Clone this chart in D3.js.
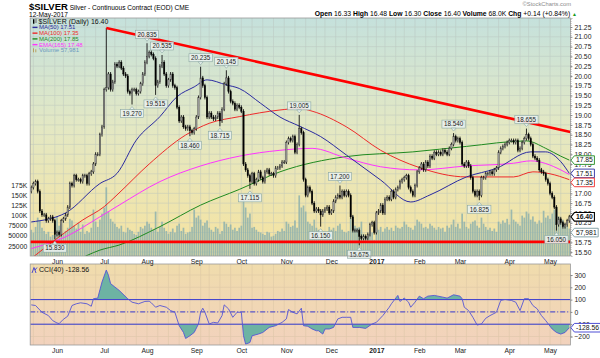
<!DOCTYPE html>
<html><head><meta charset="utf-8">
<script src="https://cdn.jsdelivr.net/npm/d3@7"></script>
<style>
body{margin:0;background:#fff;}
text{font-family:"Liberation Sans",Arial,sans-serif;}
</style>
</head><body>
<svg id="c" width="600" height="358"></svg>
<script>
// ---------------- DATA ----------------
const startDate = "2016-05-13", endDate = "2017-05-12";
const holidays = ["2016-05-30","2016-07-04","2016-09-05","2016-11-24","2016-12-26","2017-01-02","2017-01-16","2017-02-20","2017-04-14"];
const closes = [
17.15,17.25,17.30,17.05,16.55,16.45,16.45,16.30,16.35,16.40,16.30,
15.95,16.00,15.95,16.30,
16.35,16.45,16.65,17.25,17.20,
17.45,17.35,17.35,17.30,17.45,
17.45,17.25,17.50,17.55,17.75,
18.00,18.00,18.50,18.70,19.65,
19.70,20.05,19.65,19.85,
20.30,20.25,20.35,20.20,20.05,
20.00,19.60,19.55,19.65,19.65,
19.55,19.60,19.80,20.05,20.35,
20.50,20.60,20.55,20.45,19.75,
19.85,20.25,20.35,20.05,19.75,
19.90,20.05,19.75,19.70,19.20,
18.85,18.95,18.70,18.65,18.70,
18.60,18.55,18.65,18.95,19.45,
19.95,19.75,19.45,18.95,
19.05,18.95,18.90,18.95,19.05,
18.85,19.15,19.80,19.95,19.60,
19.35,19.30,19.15,19.25,19.20,
19.10,17.75,17.60,17.45,17.30,
17.50,17.25,17.35,17.55,17.40,
17.30,17.55,17.60,17.50,17.50,
17.45,17.65,17.65,17.70,17.80,
17.80,18.30,18.40,18.35,18.45,
18.05,18.25,18.65,18.55,17.35,
16.95,17.15,17.05,16.75,16.55,
16.60,16.55,16.45,16.55,
16.60,16.65,16.50,16.55,16.80,
16.90,16.95,16.90,17.05,16.95,
17.05,16.95,16.40,16.05,16.05,
16.05,15.90,15.85,15.90,15.85,
15.95,16.20,16.25,16.00,
16.50,16.55,16.70,16.50,
16.85,16.90,16.85,17.05,16.90,
17.10,17.15,17.30,17.35,
17.40,17.45,17.15,17.05,16.95,
17.20,17.55,17.65,17.75,17.60,
17.80,17.70,17.95,17.90,18.05,
18.00,18.05,18.00,18.10,18.05,
18.00,18.15,18.25,18.45,
18.35,18.40,18.30,17.75,17.70,
17.80,17.70,17.40,17.05,16.95,
17.05,16.95,17.40,17.40,17.50,
17.50,17.55,17.50,17.60,17.65,
18.05,18.15,18.20,18.25,18.30,
18.35,18.35,18.30,18.35,18.10,
18.15,18.30,18.40,18.50,
18.40,18.25,17.95,17.90,17.85,
17.60,17.55,17.50,17.35,17.25,
17.00,16.90,16.65,16.20,16.35,
16.25,16.15,16.20,16.30,16.40];
const firstOpen = 17.05;
// volume in thousands
const volumes = [
65,58,72,95,88,70,62,55,60,48,52,85,
98,75,80,
55,62,70,92,88,
75,68,82,60,78,
55,62,58,70,115,
85,72,90,105,120,
170,110,92,85,
80,72,68,75,60,
58,70,65,62,55,
52,60,72,68,75,
85,80,70,65,110,
60,72,85,70,62,
55,60,68,58,75,
80,62,70,55,58,
60,72,115,95,100,
90,75,82,88,
70,65,60,72,68,
55,62,85,80,72,
78,65,70,62,70,
75,140,120,95,105,
70,72,65,60,58,
55,52,60,58,48,
50,55,62,60,68,
62,85,80,72,75,
88,70,150,120,125,
110,85,80,75,90,
70,65,45,55,
60,58,72,65,70,
62,75,80,65,60,
58,62,95,100,75,
70,72,85,55,50,
45,60,58,40,
70,65,72,60,
68,72,65,70,62,
75,70,68,72,
85,78,72,70,65,
75,90,85,80,70,
72,68,80,75,70,
65,72,68,70,60,
75,70,78,90,
72,80,68,105,85,
72,68,80,85,88,
75,70,95,80,72,
65,70,62,68,60,
85,80,88,82,92,
78,115,90,85,80,
75,100,95,110,
105,90,98,85,80,
88,82,112,95,100,
92,105,115,120,98,
85,90,80,75,68];
// moving averages: [bar index, value]
const ma50 = [[0,16.27],[16,16.5],[32,17.25],[40,17.51],[49,18.36],[60,18.96],[68,19.47],[76,19.72],[82,19.9],[91,19.77],[97,19.68],[107,19.3],[116,18.95],[125,18.72],[135,18.45],[147,17.98],[163,17.34],[177,16.78],[186,16.96],[203,17.42],[217,17.64],[233,18.06],[240,18.06],[247,17.81],[251,17.51]];
const ma100 = [[1,15.38],[13,15.89],[24,16.32],[34,16.66],[40,16.96],[55,17.75],[72,18.49],[83,18.79],[97,18.96],[116,19.13],[125,19.17],[131,19.1],[147,18.7],[163,18.1],[181,17.66],[203,17.42],[225,17.42],[234,17.55],[242,17.5],[251,17.35]];
const ema165 = [[0,15.59],[16,15.89],[32,16.4],[41,16.7],[60,17.3],[79,17.7],[97,17.95],[116,18.1],[131,18.15],[147,17.9],[163,17.68],[181,17.6],[203,17.7],[225,17.77],[233,17.83],[247,17.6],[251,17.48]];
const ma200 = [[20,15.25],[32,15.55],[41,15.68],[60,16.15],[79,16.7],[97,17.1],[116,17.55],[147,17.94],[178,18.06],[203,18.2],[231,18.34],[240,18.15],[247,17.95],[251,17.85]];
// CCI(40): bar indices and values
const cciIdx = [0,2,5,8,10,12,13,15,17,19,21,23,26,28,29,31,33,35,36,37,39,41,45,47,50,53,55,56,58,60,63,65,67,69,71,72,74,76,78,79,80,81,83,85,87,89,90,92,94,96,98,99,100,102,103,106,108,111,114,117,119,120,122,124,126,127,129,131,133,134,136,137,139,141,143,145,147,149,150,153,156,159,161,164,167,168,171,172,174,176,177,179,181,183,185,188,192,194,197,200,201,202,204,206,208,210,212,214,217,219,221,224,226,228,230,232,234,236,238,240,243,245,247,249,251];
const cciVal = [57,52,-3,-30,-71,-90,-95,-60,-35,52,66,74,66,46,107,112,243,340,298,230,202,175,107,79,66,85,87,74,38,52,38,11,-3,-112,-167,-216,-194,-167,-98,-3,30,-3,-98,-85,-90,-30,57,25,-44,-3,-3,-194,-262,-249,-194,-180,-167,-126,-112,-85,-57,19,-3,-16,30,-112,-117,-139,-153,-153,-180,-139,-139,-126,-57,-44,-44,-44,-126,-126,-134,-98,-85,-30,38,66,134,85,112,79,38,79,128,107,128,134,120,112,139,128,107,38,11,-44,-107,-98,-52,-30,-3,93,101,93,79,11,107,107,52,25,-30,-71,-139,-167,-180,-167,-128.56];
// annotated highs / lows
const peakIdx = [11,35,47,54,58,61,74,79,88,91,102,125,135,144,153,197,209,231,245];
const peakVal = [15.830,21.225,19.270,20.835,19.515,20.535,18.460,20.235,18.715,20.145,17.115,19.005,16.150,17.200,15.675,18.540,16.825,18.655,16.050];
const peakType = ["l","h","l","h","l","h","l","h","l","h","l","h","l","h","l","h","l","h","l"];
const peakShown = [true,false,true,true,true,true,true,true,true,true,true,true,true,true,true,true,true,true,true];
const trendIdx = [35, 251.5];
const trendVal = [21.225, 18.57];
const supportLevel = 15.76;
const priceTicks = [15.50,15.75,16.00,16.25,16.50,16.75,17.00,17.25,17.50,17.75,18.00,18.25,18.50,18.75,19.00,19.25,19.50,19.75,20.00,20.25,20.50,20.75,21.00,21.25];
const volTicks = [25000,50000,75000,100000,125000,150000,175000];
const volTickLabels = ["25000","50000","75000","100K","125K","150K","175K"];
const cciTicks = [-200,-100,0,100,200,300];
const cciLabelTicks = [-200,-100,0,100,200,300];
const lastClose = 16.40, lastMa50 = 17.51, lastMa100 = 17.35, lastMa200 = 17.85, lastEma = 17.48, lastVolAvg = 57981, lastCci = -128.56;

// ---------------- LAYOUT ----------------
if (closes.length !== volumes.length || cciIdx.length !== cciVal.length) throw new Error("len " + closes.length + " " + volumes.length + " " + cciIdx.length + " " + cciVal.length);
const svg = d3.select("#c");
const P = {l:30.2, r:570.4, t:18, b:256};
const C = {t:264, b:345};
const parse = d3.utcParse("%Y-%m-%d"), fmt = d3.utcFormat("%Y-%m-%d");
const hol = new Set(holidays);
const dates = d3.utcDay.range(parse(startDate), d3.utcDay.offset(parse(endDate),1))
  .filter(d => d.getUTCDay() !== 0 && d.getUTCDay() !== 6 && !hol.has(fmt(d)));
if (dates.length !== closes.length) throw new Error("dates " + dates.length + " closes " + closes.length);
const N = closes.length;

const x = d3.scaleLinear().domain([-0.5, N - 0.5]).range([P.l, P.r]);
const y = d3.scaleLinear().domain([15.40, 21.48]).range([P.b, P.t]);
const vy = d3.scaleLinear().domain([0, 175000]).range([P.b, 185.3]);
const cy = d3.scaleLinear().domain([-200, 300]).range([336.5, 275]);

const bars = closes.map((c, i) => {
  const o = i ? closes[i-1] : firstOpen;
  return {i, o, c, h: Math.max(o, c) + 0.05, l: Math.min(o, c) - 0.05, v: volumes[i]*1000};
});
peakIdx.forEach((pi, k) => { if (peakType[k] === "h") bars[pi].h = peakVal[k]; else bars[pi].l = peakVal[k]; });

const defs = svg.append("defs");
const pg = defs.append("linearGradient").attr("id","pg").attr("x1",0).attr("y1",0).attr("x2",0).attr("y2",1);
pg.append("stop").attr("offset","0%").attr("stop-color","#c5e1dc");
pg.append("stop").attr("offset","45%").attr("stop-color","#e3e8c4");
pg.append("stop").attr("offset","100%").attr("stop-color","#f6e3a0");
const cg = defs.append("linearGradient").attr("id","cg").attr("x1",0).attr("y1",0).attr("x2",0).attr("y2",1);
cg.append("stop").attr("offset","0%").attr("stop-color","#f0dcac");
cg.append("stop").attr("offset","100%").attr("stop-color","#f2d2bd");
defs.append("clipPath").attr("id","pc").append("rect").attr("x",P.l).attr("y",P.t).attr("width",P.r-P.l).attr("height",P.b-P.t);
defs.append("clipPath").attr("id","cc").append("rect").attr("x",P.l).attr("y",C.t).attr("width",P.r-P.l).attr("height",C.b-C.t);
defs.append("clipPath").attr("id","cup").append("rect").attr("x",P.l).attr("y",C.t).attr("width",P.r-P.l).attr("height",cy(100)-C.t);
defs.append("clipPath").attr("id","cdn").append("rect").attr("x",P.l).attr("y",cy(-100)).attr("width",P.r-P.l).attr("height",C.b-cy(-100));

// panels
svg.append("rect").attr("x",P.l).attr("y",P.t).attr("width",P.r-P.l).attr("height",P.b-P.t).attr("fill","url(#pg)");
svg.append("rect").attr("x",P.l).attr("y",C.t).attr("width",P.r-P.l).attr("height",C.b-C.t).attr("fill","url(#cg)");

// week starts & month starts
const weekStarts = d3.range(1, N).filter(i => dates[i].getUTCDay() < dates[i-1].getUTCDay());
const monthStarts = d3.range(1, N).filter(i => dates[i].getUTCMonth() !== dates[i-1].getUTCMonth());

// gridlines
const grid = svg.append("g").attr("stroke","#b9c3bd").attr("stroke-width",0.6).attr("opacity",0.7);
weekStarts.forEach(i => {
  grid.append("line").attr("x1",x(i)).attr("x2",x(i)).attr("y1",P.t).attr("y2",P.b);
  grid.append("line").attr("x1",x(i)).attr("x2",x(i)).attr("y1",C.t).attr("y2",C.b).attr("stroke","#d7c3a3");
});
priceTicks.forEach(p => grid.append("line").attr("x1",P.l).attr("x2",P.r).attr("y1",y(p)).attr("y2",y(p)));
cciTicks.forEach(v => grid.append("line").attr("x1",P.l).attr("x2",P.r).attr("y1",cy(v)).attr("y2",cy(v)).attr("stroke","#d7c3a3"));

const pan = svg.append("g").attr("clip-path","url(#pc)");
// volume
const bwv = (x(1)-x(0)) - 0.45;
pan.append("g").selectAll("rect").data(bars).join("rect")
  .attr("x", d => x(d.i) - bwv/2).attr("width", bwv)
  .attr("y", d => vy(d.v)).attr("height", d => P.b - vy(d.v))
  .attr("fill","#8eb1ad").attr("opacity",0.85);

// moving averages
const mline = d3.line().x(d => x(d[0])).y(d => y(d[1])).curve(d3.curveMonotoneX);
[[ma200,"#1f8a1f"],[ema165,"#ff33ff"],[ma100,"#ee2a2a"],[ma50,"#2a2aa0"]].forEach(([arr,col]) =>
  pan.append("path").attr("d", mline(arr)).attr("fill","none").attr("stroke",col).attr("stroke-width",1));

// candles
const bwc = Math.max(1, (x(1)-x(0)) - 0.8);
const cd = pan.append("g");
cd.selectAll("line").data(bars).join("line")
  .attr("x1", d => x(d.i)).attr("x2", d => x(d.i))
  .attr("y1", d => y(d.h)).attr("y2", d => y(d.l))
  .attr("stroke","#111").attr("stroke-width",0.9);
cd.selectAll("rect").data(bars).join("rect")
  .attr("x", d => x(d.i) - bwc/2).attr("width", bwc)
  .attr("y", d => y(Math.max(d.o,d.c))).attr("height", d => Math.max(0.8, Math.abs(y(d.o)-y(d.c))))
  .attr("fill", d => d.c >= d.o ? "#a0a0a0" : "#000")
  .attr("stroke", d => d.c >= d.o ? "#333" : "#000").attr("stroke-width",0.4);

// trendlines
pan.append("line").attr("x1", x(trendIdx[0])).attr("y1", y(trendVal[0])).attr("x2", x(trendIdx[1])).attr("y2", y(trendVal[1]))
  .attr("stroke","#ff0000").attr("stroke-width",2.6);
pan.append("line").attr("x1", P.l).attr("x2", P.r).attr("y1", y(supportLevel)).attr("y2", y(supportLevel))
  .attr("stroke","#ff0000").attr("stroke-width",2.6);

// peak labels
const lab = svg.append("g");
peakIdx.forEach((pi, k) => {
  if (!peakShown[k]) return;
  const up = peakType[k] === "h";
  const px = x(pi), py = up ? y(peakVal[k]) - 2 : y(peakVal[k]) + 2;
  const by = up ? py - 11 : py + 3;
  const gg = lab.append("g");
  const t = gg.append("text").attr("x", px).attr("y", by + 6.3).attr("text-anchor","middle").attr("font-size",6.3).attr("fill","#222").text(peakVal[k].toFixed(3));
  const w = t.node().getComputedTextLength() + 4;
  gg.insert("rect","text").attr("x", px - w/2).attr("y", by).attr("width", w).attr("height", 8)
    .attr("fill","#e9f1ee").attr("fill-opacity",0.9).attr("stroke","#8aa7a2").attr("stroke-width",0.6);
  const tp = up ? `M${px-2.5},${by+8}L${px},${by+11}L${px+2.5},${by+8}Z` : `M${px-2.5},${by}L${px},${by-3}L${px+2.5},${by}Z`;
  gg.append("path").attr("d", tp).attr("fill","#e9f1ee").attr("stroke","#8aa7a2").attr("stroke-width",0.6);
});

// CCI
const cg2 = svg.append("g").attr("clip-path","url(#cc)");
const cdata = cciIdx.map((i,k) => [i, cciVal[k]]);
const upArea = d3.area().x(d => x(d[0])).y0(cy(100)).y1(d => cy(d[1]));
const dnArea = d3.area().x(d => x(d[0])).y0(cy(-100)).y1(d => cy(d[1]));
cg2.append("path").attr("d", upArea(cdata)).attr("fill","#6db3a3").attr("clip-path","url(#cup)");
cg2.append("path").attr("d", dnArea(cdata)).attr("fill","#6db3a3").attr("clip-path","url(#cdn)");
[[100,null],[-100,null],[0,"5,2,1,2"]].forEach(([v,da]) => {
  const l = cg2.append("line").attr("x1",P.l).attr("x2",P.r).attr("y1",cy(v)).attr("y2",cy(v)).attr("stroke","#3a3ad0").attr("stroke-width",1);
  if (da) l.attr("stroke-dasharray", da);
});
cg2.append("path").attr("d", d3.line().x(d => x(d[0])).y(d => cy(d[1]))(cdata)).attr("fill","none").attr("stroke","#5555d5").attr("stroke-width",0.9);

// borders
svg.append("rect").attr("x",P.l).attr("y",P.t).attr("width",P.r-P.l).attr("height",P.b-P.t).attr("fill","none").attr("stroke","#9a9a9a").attr("stroke-width",0.8);
svg.append("rect").attr("x",P.l).attr("y",C.t).attr("width",P.r-P.l).attr("height",C.b-C.t).attr("fill","none").attr("stroke","#9a9a9a").attr("stroke-width",0.8);

// axes
function styleAxis(g) {
  g.selectAll("text").attr("font-size",6.8).attr("fill","#222").attr("font-family","Liberation Sans, Arial, sans-serif");
  g.selectAll(".tick line").attr("stroke","#888");
  g.select(".domain").attr("stroke","#999").attr("stroke-dasharray","1,1");
}
svg.append("g").attr("transform",`translate(${P.r},0)`)
  .call(d3.axisRight(y).tickValues(priceTicks).tickFormat(d3.format(".2f")).tickSize(2).tickPadding(2)).call(styleAxis);
svg.append("g").attr("transform",`translate(${P.l},0)`)
  .call(d3.axisLeft(vy).tickValues(volTicks).tickFormat((d,k) => volTickLabels[k]).tickSize(0).tickPadding(3)).call(styleAxis)
  .select(".domain").remove();
svg.append("g").attr("transform",`translate(${P.r},0)`)
  .call(d3.axisRight(cy).tickValues(cciLabelTicks).tickFormat(d3.format("d")).tickSize(2).tickPadding(2)).call(styleAxis);

const mfmt = i => dates[i].getUTCMonth() === 0 ? d3.utcFormat("%Y")(dates[i]) : d3.utcFormat("%b")(dates[i]);
[P.b, C.b].forEach(yy => {
  const ax = svg.append("g").attr("transform",`translate(0,${yy})`)
    .call(d3.axisBottom(x).tickValues(monthStarts).tickFormat(mfmt).tickSize(0).tickPadding(3));
  ax.select(".domain").remove();
  ax.selectAll("text").attr("font-size",6.8).attr("fill","#222")
    .attr("font-weight", (d) => dates[d].getUTCMonth() === 0 ? "bold" : "normal");
});

// right value tags
function tag(yv, txt, col, bold) {
  const g = svg.append("g");
  const t = g.append("text").attr("x", P.r + 5.5).attr("y", yv + 2.4).attr("font-size",6.8).attr("fill","#111").attr("font-weight", bold ? "bold" : "normal").text(txt);
  const w = t.node().getComputedTextLength() + 3;
  g.insert("path","text").attr("d", `M${P.r+0.5},${yv}L${P.r+4},${yv-4.3}L${P.r+4+w},${yv-4.3}L${P.r+4+w},${yv+4.3}L${P.r+4},${yv+4.3}Z`)
    .attr("fill","#fff").attr("stroke",col).attr("stroke-width", bold ? 1.1 : 0.9);
}
let tags = [[y(lastMa200), lastMa200.toFixed(2), "#1f8a1f"],[y(lastMa50), lastMa50.toFixed(2), "#2a2aa0"],[y(lastMa100), lastMa100.toFixed(2), "#ee2a2a"]].sort((a,b)=>a[0]-b[0]);
for (let k = 1; k < tags.length; k++) if (tags[k][0] - tags[k-1][0] < 9) tags[k][0] = tags[k-1][0] + 9;
tags.forEach(t => tag(t[0], t[1], t[2], false));
tag(y(lastClose), lastClose.toFixed(2), "#000", true);
tag(vy(lastVolAvg), d3.format(",")(lastVolAvg), "#7a9aa0", false);
tag(cy(lastCci), lastCci.toFixed(2), "#3a3ad0", false);

// header
const hd = svg.append("g");
const t1 = hd.append("text").attr("x",29).attr("y",9.5);
t1.append("tspan").attr("font-weight","bold").attr("font-size",9.5).text("$SILVER");
t1.append("tspan").attr("font-size",6.6).text(" Silver - Continuous Contract (EOD) CME");
hd.append("text").attr("x",29).attr("y",17).attr("font-size",6.6).text("12-May-2017");
hd.append("text").attr("x",571).attr("y",6).attr("text-anchor","end").attr("font-size",5.8).attr("fill","#8a8a8a").text("©StockCharts.com");
const t2 = hd.append("text").attr("x",577).attr("y",15.5).attr("text-anchor","end").attr("font-size",6.8);
[["Open",true],[" 16.33 ",false],["High",true],[" 16.48 ",false],["Low",true],[" 16.30 ",false],["Close",true],[" 16.40 ",false],["Volume",true],[" 68.0K ",false],["Chg",true],[" +0.14 (+0.84%) ",false]]
  .forEach(([s,b]) => t2.append("tspan").attr("font-weight", b ? "bold" : "normal").text(s));
t2.append("tspan").attr("fill","#1a9a1a").attr("font-size",5).text("▲");

// legend
const lg = svg.append("g");
lg.append("rect").attr("x",33).attr("y",19.2).attr("width",1.4).attr("height",4.5).attr("fill","#000");
lg.append("rect").attr("x",35.3).attr("y",18.5).attr("width",1.4).attr("height",4.5).attr("fill","#888");
lg.append("text").attr("x",38.5).attr("y",23.6).attr("font-size",7).attr("fill","#111").text("$SILVER (Daily) 16.40");
const legItems = [["MA(50) " + lastMa50.toFixed(2), "#2a2aa0"],["MA(100) " + lastMa100.toFixed(2), "#ee2a2a"],["MA(200) " + lastMa200.toFixed(2), "#1f8a1f"],["EMA(165) " + lastEma.toFixed(2), "#ff33ff"],["Volume " + d3.format(",")(lastVolAvg), "#6b9bc0"]];
legItems.forEach(([s,col],k) => {
  const yy = 29.3 + k*5.75;
  if (k < 4) lg.append("rect").attr("x",32.5).attr("y",yy-2.6).attr("width",5).attr("height",1.4).attr("fill",col);
  else { lg.append("rect").attr("x",33).attr("y",yy-4).attr("width",1).attr("height",4).attr("fill","#b8a060"); lg.append("rect").attr("x",35.3).attr("y",yy-3).attr("width",1).attr("height",3).attr("fill","#b8a060"); }
  lg.append("text").attr("x",39).attr("y",yy).attr("font-size",6).attr("fill",col).text(s);
});
const cl = svg.append("g");
cl.append("path").attr("d","M32,273L34,267.5L36,273M35,270L37,267.5").attr("fill","none").attr("stroke","#3a3ad0").attr("stroke-width",0.9);
cl.append("text").attr("x",39).attr("y",272.3).attr("font-size",7).attr("fill","#111").text("CCI(40) " + lastCci.toFixed(2));
</script>
</body></html>
